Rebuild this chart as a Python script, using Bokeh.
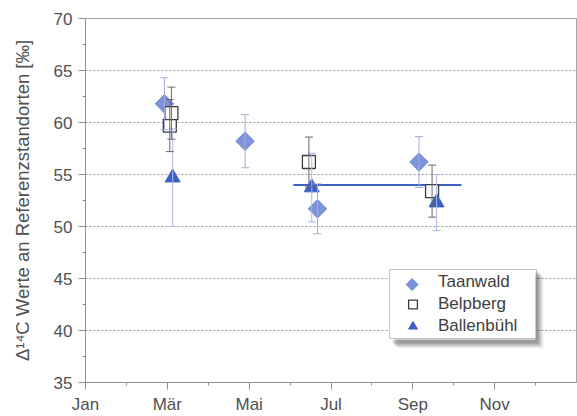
import math
from bokeh.plotting import figure
from bokeh.models import (ColumnDataSource, Whisker, TeeHead, FixedTicker, Legend,
                          LegendItem, BoxAnnotation, Range1d, Label)
from bokeh.embed import file_html
from bokeh.resources import INLINE

# Month axis (Jan = 0), labels on every second month
month_ticks = [0, 2, 4, 6, 8, 10]
month_labels = ["Jan", "Mär", "Mai", "Jul", "Sep", "Nov"]
month_minor = [1, 3, 5, 7, 9, 11]

# Taanwald
taan_x = [1.93, 3.90, 5.67, 8.15]
taan_y = [61.8, 58.2, 51.7, 56.2]
taan_err = [2.5, 2.55, 2.4, 2.45]

# Belpberg
belp_x = [2.06, 2.10, 5.46, 8.47]
belp_y = [59.7, 60.9, 56.2, 53.4]
belp_err = [2.5, 2.5, 2.4, 2.5]

# Ballenbühl
ball_x = [2.13, 5.53, 8.58]
ball_y = [54.7, 53.75, 52.3]
ball_err = [4.7, 3.3, 2.7]

# Mean level over summer/autumn
mean_x = [5.08, 9.19]
mean_y = [54.0, 54.0]

FONT = "Liberation Sans"
TXT = "#505050"
TAAN_FILL = "#7d93da"

p = figure(width=577, height=416, output_backend="svg", toolbar_location=None,
           x_range=Range1d(0, 12), y_range=Range1d(35, 70),
           min_border_left=85, min_border_right=1, min_border_top=18,
           min_border_bottom=33)

p.outline_line_color = "#a8a8a8"
p.outline_line_width = 1
p.background_fill_color = "white"
p.border_fill_color = "white"

# axes
p.xaxis.ticker = FixedTicker(ticks=month_ticks, minor_ticks=month_minor)
p.xaxis.major_label_overrides = {t: l for t, l in zip(month_ticks, month_labels)}
p.yaxis.ticker = FixedTicker(ticks=[35, 40, 45, 50, 55, 60, 65, 70],
                             minor_ticks=[37.5, 42.5, 47.5, 52.5, 57.5, 62.5, 67.5])
p.yaxis.axis_label = "Δ¹⁴C Werte an Referenzstandorten [‰]"
for ax in (p.xaxis, p.yaxis):
    ax.axis_line_color = "#909090"
    ax.major_tick_line_color = "#909090"
    ax.minor_tick_line_color = "#909090"
    ax.major_tick_in = 0
    ax.major_tick_out = 7
    ax.minor_tick_in = 0
    ax.minor_tick_out = 3
    ax.major_label_text_font = FONT
    ax.major_label_text_font_size = "17px"
    ax.major_label_text_color = TXT
    ax.axis_label_text_font = FONT
    ax.axis_label_text_font_size = "18.5px"
    ax.axis_label_text_font_style = "normal"
    ax.axis_label_text_color = TXT
p.xaxis.major_label_standoff = 5
p.yaxis.major_label_standoff = 6
p.yaxis.axis_label_standoff = 18

p.xgrid.grid_line_color = None
p.ygrid.grid_line_color = "#9a9a9a"
p.ygrid.grid_line_dash = "2 2"
p.ygrid.grid_line_width = 1

# error bars
def add_errors(xs, ys, errs, color, cap=8):
    src = ColumnDataSource(dict(x=xs, lo=[y - e for y, e in zip(ys, errs)],
                                hi=[y + e for y, e in zip(ys, errs)]))
    w = Whisker(source=src, base="x", lower="lo", upper="hi", dimension="height",
                line_color=color, line_width=1,
                lower_head=TeeHead(size=cap, line_color=color, line_width=1),
                upper_head=TeeHead(size=cap, line_color=color, line_width=1))
    w.level = "glyph"
    p.add_layout(w)

add_errors(ball_x, ball_y, ball_err, "#a9b7e6")
add_errors(taan_x, taan_y, taan_err, "#a3acd6")
add_errors(belp_x, belp_y, belp_err, "#6a6a6a")

p.line(mean_x, mean_y, line_color="#3f62c6", line_width=2)

r_taan = p.scatter(taan_x, taan_y, marker="square", angle=math.pi / 4, size=13,
                   fill_color=TAAN_FILL, line_color="#6d84cf", line_width=1)
r_belp = p.scatter(belp_x, belp_y, marker="square", size=13,
                   fill_color="white", line_color="#3a3a3a", line_width=1.3)
r_ball = p.scatter(ball_x, ball_y, marker="triangle", size=15,
                   fill_color="#3d5fc6", line_color="#3d5fc6", line_width=1)

# invisible stand-in so the legend row keeps its slot; the rotated
# diamond symbol is drawn as a text glyph
r_taan_key = p.scatter([], [], marker="square", fill_alpha=0, line_alpha=0)

# legend panel: soft drop shadow plus white backing (frame-relative pixels)
box = dict(left_units="screen", right_units="screen",
           bottom_units="screen", top_units="screen", line_color=None)
for i, a in enumerate([0.10, 0.09, 0.08, 0.07, 0.06, 0.05]):
    d = i + 1
    p.add_layout(BoxAnnotation(left=304 + d + 2, right=450 + d + 2,
                               bottom=43 - d - 3, top=112 - d,
                               fill_color="black", fill_alpha=a, **box))
p.add_layout(BoxAnnotation(left=304, right=450, bottom=43, top=112,
                           fill_color="white", fill_alpha=1, **box))

key = Label(x=326.5, y=100, x_units="screen", y_units="screen", text="◆",
            text_font="DejaVu Sans", text_font_size="17px",
            text_color=TAAN_FILL, text_align="center", text_baseline="middle")
p.add_layout(key)

legend = Legend(items=[LegendItem(label="Taanwald", renderers=[r_taan_key]),
                       LegendItem(label="Belpberg", renderers=[r_belp]),
                       LegendItem(label="Ballenbühl", renderers=[r_ball])],
                location=(304, 43), orientation="vertical")
legend.border_line_color = "#8a8a8a"
legend.border_line_width = 1
legend.background_fill_alpha = 0
legend.padding = 1
legend.margin = 0
legend.spacing = 0
legend.glyph_width = 43
legend.glyph_height = 22
legend.label_height = 22
legend.label_width = 97
legend.label_standoff = 4
legend.label_text_font = FONT
legend.label_text_font_size = "17px"
legend.label_text_color = "#404040"
p.add_layout(legend)

open("out.html", "w").write(file_html(p, INLINE))
